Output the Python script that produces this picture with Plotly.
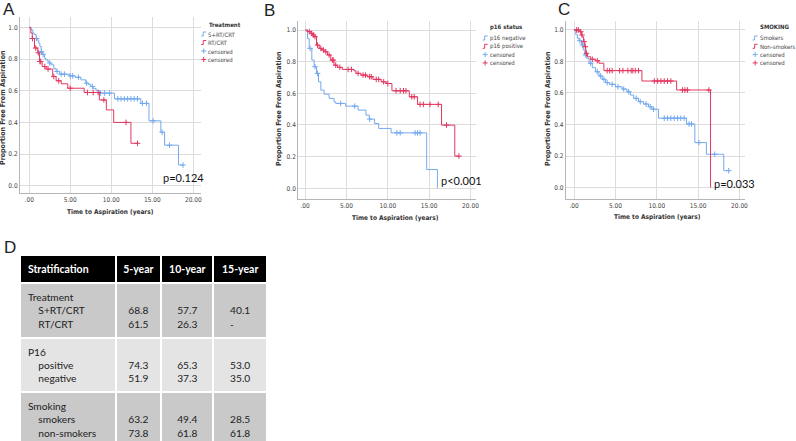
import plotly.graph_objects as go

W, H = 796, 441
BLUE = "#74aaee"
RED = "#e2375f"
NARROW = "Liberation Sans Narrow, DejaVu Sans Condensed, Liberation Sans, Arial"

# ---- Panel A: treatment ----
a_srt_t = [0, 0.2, 0.44, 0.6, 0.85, 1.0, 1.17, 1.3, 1.46, 1.6, 1.86, 2.0, 2.27, 2.5, 2.68, 3.0, 3.28, 3.69,
           4.9, 5.6, 6.3, 6.9, 7.2, 7.5, 7.8, 8.15, 8.55, 10.4, 13.6, 14.6, 16.05, 16.5, 18.2, 18.75]
a_srt_s = [1.0, 0.985, 0.965, 0.955, 0.93, 0.92, 0.90, 0.88, 0.848, 0.83, 0.806, 0.795, 0.785, 0.775, 0.764,
           0.74, 0.722, 0.705, 0.694, 0.685, 0.669, 0.648, 0.64, 0.627, 0.615, 0.601, 0.585, 0.549, 0.52,
           0.41, 0.338, 0.256, 0.131, 0.131]
a_srt_ct = [0.9, 1.5, 1.7, 2.5, 3.4, 3.9, 4.3, 5.0, 5.3, 6.0, 7.0, 7.7, 8.7, 9.2, 9.8,
            10.8, 11.2, 11.6, 12.0, 12.4, 12.8, 13.2, 13.8, 14.3, 15.1, 16.2, 17.1, 18.75]
a_srt_cs = [0.93, 0.848, 0.83, 0.775, 0.722, 0.705, 0.705, 0.694, 0.694, 0.685, 0.648, 0.627, 0.585, 0.585, 0.585,
            0.549, 0.549, 0.549, 0.549, 0.549, 0.549, 0.549, 0.52, 0.52, 0.41, 0.338, 0.256, 0.131]

a_rt_t = [0, 0.2, 0.37, 0.65, 1.05, 1.25, 1.58, 2.07, 2.87, 3.28, 3.9, 4.7, 6.7, 8.55, 9.4, 10.3, 12.4, 13.2]
a_rt_s = [1.0, 0.965, 0.93, 0.87, 0.84, 0.785, 0.753, 0.737, 0.69, 0.663, 0.644, 0.616, 0.589, 0.542, 0.479,
          0.40, 0.268, 0.268]
a_rt_ct = [0.4, 0.8, 1.1, 1.3, 1.4, 1.9, 2.3, 3.0, 3.6, 5.0, 7.1, 7.8, 8.4, 9.1, 11.8, 13.2]
a_rt_cs = [0.93, 0.87, 0.84, 0.785, 0.785, 0.753, 0.737, 0.69, 0.663, 0.616, 0.589, 0.589, 0.589, 0.542, 0.40, 0.268]

# ---- Panel B: p16 status ----
b_neg_t = [0, 0.29, 0.49, 0.81, 1.09, 1.38, 1.62, 1.9, 2.3, 2.9, 3.5, 3.7, 4.9, 6.4, 7.35, 7.76, 8.4, 8.9,
           10.4, 14.7, 16.0]
b_neg_s = [1.0, 0.947, 0.884, 0.81, 0.768, 0.726, 0.673, 0.62, 0.595, 0.568, 0.546, 0.536, 0.519, 0.494,
           0.462, 0.437, 0.409, 0.378, 0.35, 0.118, 0.0]
b_neg_ct = [0.6, 1.2, 1.5, 4.3, 6.0, 7.8, 11.1, 11.5, 13.3, 13.6, 13.9]
b_neg_cs = [0.884, 0.768, 0.726, 0.536, 0.519, 0.437, 0.35, 0.35, 0.35, 0.35, 0.35]

b_pos_t = [0, 0.3, 0.69, 0.9, 1.09, 1.38, 1.7, 2.0, 2.3, 2.7, 3.1, 3.5, 3.9, 4.5, 5.9, 6.15, 6.75, 7.5, 8.2,
           9.2, 9.8, 10.5, 12.6, 13.6, 16.5, 18.1, 18.6]
b_pos_s = [1.0, 0.99, 0.979, 0.968, 0.958, 0.905, 0.884, 0.874, 0.863, 0.842, 0.81, 0.778, 0.764, 0.751,
           0.742, 0.726, 0.715, 0.705, 0.688, 0.673, 0.662, 0.616, 0.578, 0.53, 0.399, 0.203, 0.203]
b_pos_ct = [0.5, 0.8, 1.0, 1.2, 1.5, 1.9, 2.2, 2.5, 2.9, 3.3, 3.4, 3.7, 4.2, 5.2, 5.6, 6.4, 7.0, 7.3, 7.8,
            8.0, 8.6, 8.9, 9.5, 10.0, 11.0, 11.5, 11.9, 12.2, 12.9, 13.2, 13.9, 14.3, 15.1, 16.1, 17.1, 18.6]
b_pos_cs = [0.99, 0.979, 0.968, 0.958, 0.905, 0.884, 0.874, 0.863, 0.842, 0.81, 0.81, 0.778, 0.764, 0.751,
            0.751, 0.726, 0.715, 0.715, 0.705, 0.705, 0.688, 0.688, 0.673, 0.662, 0.616, 0.616, 0.616, 0.616,
            0.578, 0.578, 0.53, 0.53, 0.53, 0.53, 0.399, 0.203]

# ---- Panel C: smoking ----
c_smk_t = [0, 0.2, 0.4, 0.6, 0.9, 1.1, 1.29, 1.53, 1.8, 2.2, 2.6, 3.0, 3.4, 3.8, 4.3, 5.0, 5.8, 6.4, 6.8,
           7.2, 7.8, 8.4, 9.0, 9.4, 10.2, 13.6, 14.6, 16.0, 18.1, 18.7]
c_smk_s = [1.0, 0.97, 0.947, 0.932, 0.905, 0.873, 0.841, 0.82, 0.789, 0.761, 0.735, 0.708, 0.687, 0.666,
           0.655, 0.64, 0.625, 0.608, 0.587, 0.566, 0.545, 0.53, 0.513, 0.497, 0.44, 0.403, 0.285, 0.211,
           0.107, 0.107]
c_smk_ct = [0.7, 1.0, 1.4, 2.0, 2.8, 3.2, 3.6, 4.0, 4.6, 5.3, 6.0, 6.6, 7.5, 8.0, 8.7, 9.2, 9.6,
            10.9, 11.3, 11.7, 12.1, 12.5, 12.9, 13.3, 13.9, 14.2, 15.1, 17.0, 18.7]
c_smk_cs = [0.932, 0.905, 0.841, 0.789, 0.735, 0.708, 0.687, 0.666, 0.655, 0.64, 0.625, 0.608, 0.566, 0.545,
            0.53, 0.513, 0.497, 0.44, 0.44, 0.44, 0.44, 0.44, 0.44, 0.44, 0.403, 0.403, 0.285, 0.211, 0.107]

c_non_t = [0, 0.72, 0.9, 1.0, 1.15, 1.29, 1.41, 1.6, 2.0, 2.6, 3.0, 3.6, 8.2, 12.4, 16.5]
c_non_s = [1.0, 0.989, 0.968, 0.957, 0.926, 0.894, 0.852, 0.83, 0.814, 0.805, 0.789, 0.742, 0.676, 0.619, 0.0]
c_non_ct = [0.3, 0.5, 0.8, 0.95, 1.2, 1.35, 1.5, 2.2, 2.8, 4.0, 4.3, 4.6, 5.5, 5.9, 6.5, 6.9, 7.1, 7.4, 7.8,
            9.7, 10.1, 10.5, 10.9, 11.3, 11.7, 13.1, 13.4, 13.7, 16.3]
c_non_cs = [1.0, 1.0, 0.989, 0.968, 0.926, 0.894, 0.852, 0.814, 0.805, 0.742, 0.742, 0.742, 0.742, 0.742,
            0.742, 0.742, 0.742, 0.742, 0.742, 0.676, 0.676, 0.676, 0.676, 0.676, 0.676, 0.619, 0.619, 0.619,
            0.619]

x_ticks = [0, 5, 10, 15, 20]
x_ticktext = [".00", "5.00", "10.00", "15.00", "20.00"]
y_ticks = [0, 0.2, 0.4, 0.6, 0.8, 1.0]
y_ticktext = ["0.0", "0.2", "0.4", "0.6", "0.8", "1.0"]

# ---- Panel D: table ----
tbl_header = ["Stratification", "5-year", "10-year", "15-year"]
tbl_groups = ["Treatment", "P16", "Smoking"]
tbl_sub = [["S+RT/CRT", "RT/CRT"], ["positive", "negative"], ["smokers", "non-smokers"]]
tbl_5y = [["68.8", "61.5"], ["74.3", "51.9"], ["63.2", "73.8"]]
tbl_10y = [["57.7", "26.3"], ["65.3", "37.3"], ["49.4", "61.8"]]
tbl_15y = [["40.1", "-"], ["53.0", "35.0"], ["28.5", "61.8"]]


def pp(x, y):
    return x / W, 1 - y / H


fig = go.Figure()

panels = [
    ("x", "y", [(a_srt_t, a_srt_s, a_srt_ct, a_srt_cs, BLUE), (a_rt_t, a_rt_s, a_rt_ct, a_rt_cs, RED)]),
    ("x2", "y2", [(b_neg_t, b_neg_s, b_neg_ct, b_neg_cs, BLUE), (b_pos_t, b_pos_s, b_pos_ct, b_pos_cs, RED)]),
    ("x3", "y3", [(c_smk_t, c_smk_s, c_smk_ct, c_smk_cs, BLUE), (c_non_t, c_non_s, c_non_ct, c_non_cs, RED)]),
]
for xa, ya, curves in panels:
    for t, s, ct, cs, col in curves:
        fig.add_trace(go.Scatter(x=t, y=s, mode="lines", line=dict(color=col, width=1, shape="hv"),
                                 xaxis=xa, yaxis=ya, showlegend=False, hoverinfo="skip"))
        fig.add_trace(go.Scatter(x=ct, y=cs, mode="markers", xaxis=xa, yaxis=ya, showlegend=False,
                                 marker=dict(symbol="cross-thin", size=4, line=dict(width=1, color=col)),
                                 hoverinfo="skip"))

# table
cells_col0, cells_c1, cells_c2, cells_c3 = [], [], [], []
ind = "\u00a0" * 4
for g, sub, v5, v10, v15 in zip(tbl_groups, tbl_sub, tbl_5y, tbl_10y, tbl_15y):
    cells_col0.append(g + "<br>" + "<br>".join(ind + s for s in sub))
    cells_c1.append("\u00a0<br>" + "<br>".join(v5))
    cells_c2.append("\u00a0<br>" + "<br>".join(v10))
    cells_c3.append("\u00a0<br>" + "<br>".join(v15))
row_fill = ["#c9c9c9", "#e4e4e4", "#c9c9c9"]
fig.add_trace(go.Table(
    domain=dict(x=[20 / W, 268 / W], y=[0, 1 - 255 / H]),
    columnwidth=[95, 45, 52, 53],
    header=dict(values=["<b>%s</b>" % h for h in tbl_header], fill_color="black",
                line=dict(color="white", width=2), align=["left", "center", "center", "center"],
                font=dict(family="Lato", size=10.5, color="white"), height=21),
    cells=dict(values=[cells_col0, cells_c1, cells_c2, cells_c3], fill_color=[row_fill] * 4,
               line=dict(color="white", width=2), align=["left", "center", "center", "center"],
               font=dict(family="Lato", size=10.2, color="#222"), height=49),
))

# layout axes
def xaxis(dom, rng):
    return dict(domain=dom, range=rng, tickvals=x_ticks, ticktext=x_ticktext, showgrid=True,
                gridcolor="#dcdcdc", gridwidth=1, zeroline=False, showline=True, linecolor="#b5b5b5",
                tickfont=dict(family=NARROW, size=6.5, color="#444"), ticks="", fixedrange=True)


def yaxis(dom, rng, anchor):
    return dict(domain=dom, range=rng, tickvals=y_ticks, ticktext=y_ticktext, showgrid=True,
                gridcolor="#dcdcdc", gridwidth=1, zeroline=False, showline=True, linecolor="#b5b5b5",
                tickfont=dict(family=NARROW, size=6.5, color="#444"), ticks="", anchor=anchor,
                fixedrange=True)


fig.update_layout(
    width=W, height=H, margin=dict(l=0, r=0, t=0, b=0),
    paper_bgcolor="white", plot_bgcolor="white", showlegend=False,
    xaxis=xaxis([20 / W, 202 / W], [-1.13, 20.97]) | dict(anchor="y"),
    yaxis=yaxis([1 - 193 / H, 1 - 17 / H], [-0.046, 1.066], "x"),
    xaxis2=xaxis([299.3 / W, 478 / W], [-0.84, 20.69]) | dict(anchor="y2"),
    yaxis2=yaxis([1 - 199 / H, 1 - 21 / H], [-0.068, 1.057], "x2"),
    xaxis3=xaxis([568 / W, 748 / W], [-1.0, 20.69]) | dict(anchor="y3"),
    yaxis3=yaxis([1 - 199 / H, 1 - 21 / H], [-0.073, 1.057], "x3"),
)

ann = []
shapes = []


def text(x, y, s, size, anchor="center", color="#222", family="Liberation Sans", angle=0):
    px, py = pp(x, y)
    ann.append(dict(x=px, y=py, xref="paper", yref="paper", text=s, showarrow=False, xanchor=anchor,
                    yanchor="middle", textangle=angle, font=dict(size=size, color=color, family=family)))


# panel letters
text(9, 10, "A", 17)
text(271, 11, "B", 17)
text(566, 10, "C", 17)
text(10, 247, "D", 17)

# axis titles
for xt, yt, xx, yy in [(111, 212, 3, 107), (397, 218, 280, 108), (660, 217, 550, 108)]:
    text(xt, yt, "<b>Time to Aspiration (years)</b>", 6.5, family=NARROW, color="#333")
    text(xx, yy, "<b>Proportion Free From Aspiration</b>", 7, family=NARROW, color="#333", angle=-90)

# p values
text(184, 177, "p=0.124", 11, family="Lato", color="#111")
text(463, 181, "p<0.001", 11, family="Lato", color="#111")
text(737, 183, "p=0.033", 11, family="Lato", color="#111")

# legends
legends = [
    (202, 24.3, "Treatment", ["S+RT/CRT", "RT/CRT"], [34, 42.5, 51, 59.5]),
    (484.5, 27, "p16 status", ["p16 negative", "p16 positive"], [38, 46.3, 54.6, 62.9]),
    (755.5, 27, "SMOKING", ["Smokers", "Non-smokers"], [38, 46.3, 54.6, 62.9]),
]
for lx, ty, title, labels, ys in legends:
    text(lx + 5.5, ty, "<b>" + title + "</b>", 6, anchor="left", family=NARROW, color="#333")
    names = labels + ["censored", "censored"]
    cols = [BLUE, RED, BLUE, RED]
    for i, (nm, yy, col) in enumerate(zip(names, ys, cols)):
        text(lx + 5, yy, nm, 6, anchor="left", family=NARROW, color="#444")
        if i < 2:
            x0, y0 = pp(lx, yy + 2)
            x1, y1 = pp(lx + 2, yy + 2)
            x2, y2 = pp(lx + 2, yy - 2)
            x3, y3 = pp(lx + 5, yy - 2)
            shapes.append(dict(type="path", xref="paper", yref="paper",
                               path=f"M {x0},{y0} L {x1},{y1} L {x2},{y2} L {x3},{y3}",
                               line=dict(color=col, width=1)))
        else:
            a0, b0 = pp(lx, yy)
            a1, b1 = pp(lx + 5, yy)
            shapes.append(dict(type="line", xref="paper", yref="paper", x0=a0, y0=b0, x1=a1, y1=b1,
                               line=dict(color=col, width=1)))
            a0, b0 = pp(lx + 2.5, yy - 2.5)
            a1, b1 = pp(lx + 2.5, yy + 2.5)
            shapes.append(dict(type="line", xref="paper", yref="paper", x0=a0, y0=b0, x1=a1, y1=b1,
                               line=dict(color=col, width=1)))

fig.update_layout(annotations=ann, shapes=shapes)
fig.write_html("out.html", config={"displayModeBar": False},
               post_script="document.body.style.margin='0';document.body.style.overflow='hidden';")
